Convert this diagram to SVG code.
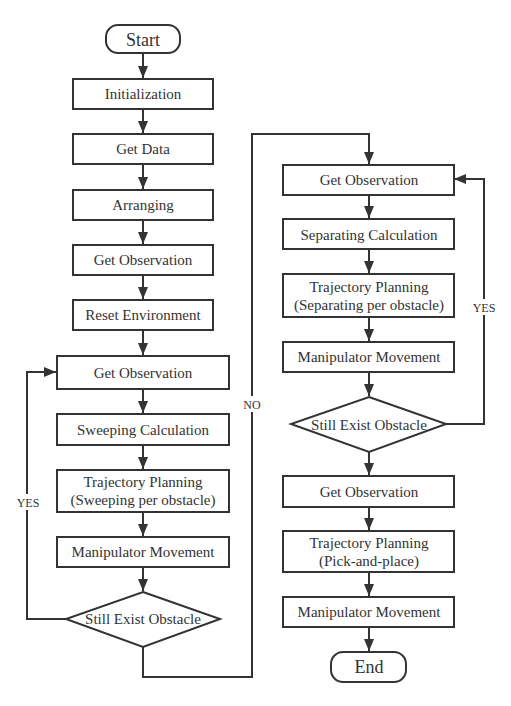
<svg xmlns="http://www.w3.org/2000/svg" width="511" height="706" viewBox="0 0 511 706">
<style>
.box{fill:#fff;stroke:#333;stroke-width:2}
text{font-family:'Liberation Serif','Times New Roman',Times,'DejaVu Serif',serif;fill:#333;text-anchor:middle}
.t{font-size:15px}
.big{font-size:18px}
.lbl{font-size:12px}
.c{fill:none;stroke:#333;stroke-width:2}
</style>
<defs>
<marker id="a" markerUnits="userSpaceOnUse" markerWidth="12" markerHeight="12" viewBox="0 0 12 12" refX="12" refY="6" orient="auto">
<path d="M0,1 L12,6 L0,11 Z" fill="#333"/>
</marker>
</defs>
<rect width="511" height="706" fill="#fff"/>
<g id="connectors">
<path class="c" d="M143,53 V78" marker-end="url(#a)"/>
<path class="c" d="M143,109 V133" marker-end="url(#a)"/>
<path class="c" d="M143,164 V189" marker-end="url(#a)"/>
<path class="c" d="M143,220 V244" marker-end="url(#a)"/>
<path class="c" d="M143,275 V299" marker-end="url(#a)"/>
<path class="c" d="M143,330 V355" marker-end="url(#a)"/>
<path class="c" d="M143,389 V413" marker-end="url(#a)"/>
<path class="c" d="M143,445 V469" marker-end="url(#a)"/>
<path class="c" d="M143,512 V536" marker-end="url(#a)"/>
<path class="c" d="M143,567 V591" marker-end="url(#a)"/>
<path class="c" d="M66,619 H27 V372 H56" marker-end="url(#a)"/>
<path class="c" d="M143,647 V677 H252 V134 H369 V164" marker-end="url(#a)"/>
<path class="c" d="M369,195 V218" marker-end="url(#a)"/>
<path class="c" d="M369,249 V273" marker-end="url(#a)"/>
<path class="c" d="M369,317 V341" marker-end="url(#a)"/>
<path class="c" d="M369,372 V396" marker-end="url(#a)"/>
<path class="c" d="M446,424 H484 V179 H454" marker-end="url(#a)"/>
<path class="c" d="M369,452 V475" marker-end="url(#a)"/>
<path class="c" d="M369,507 V530" marker-end="url(#a)"/>
<path class="c" d="M369,572 V596" marker-end="url(#a)"/>
<path class="c" d="M369,627 V651" marker-end="url(#a)"/>
<rect x="16" y="494" width="24" height="16" fill="#fff"/>
<text class="lbl" x="28" y="507">YES</text>
<rect x="240" y="396" width="24" height="16" fill="#fff"/>
<text class="lbl" x="252" y="409">NO</text>
<rect x="471" y="299" width="26" height="16" fill="#fff"/>
<text class="lbl" x="484" y="312">YES</text>
</g>
<g id="start"><rect class="box" x="106" y="25" width="74" height="28" rx="12"/><text class="big" x="143" y="46">Start</text></g>
<g id="init"><rect class="box" x="73" y="79" width="140" height="30"/><text class="t" x="143" y="99">Initialization</text></g>
<g id="getdata"><rect class="box" x="73" y="134" width="140" height="30"/><text class="t" x="143" y="154">Get Data</text></g>
<g id="arranging"><rect class="box" x="73" y="190" width="140" height="30"/><text class="t" x="143" y="210">Arranging</text></g>
<g id="obs1"><rect class="box" x="73" y="245" width="140" height="30"/><text class="t" x="143" y="265">Get Observation</text></g>
<g id="reset"><rect class="box" x="73" y="300" width="140" height="30"/><text class="t" x="143" y="320">Reset Environment</text></g>
<g id="obs2"><rect class="box" x="57" y="356" width="172" height="33"/><text class="t" x="143" y="378">Get Observation</text></g>
<g id="sweepcalc"><rect class="box" x="57" y="414" width="172" height="31"/><text class="t" x="143" y="435">Sweeping Calculation</text></g>
<g id="traj1"><rect class="box" x="57" y="470" width="172" height="42"/><text class="t" x="143" y="487">Trajectory Planning</text><text class="t" x="143" y="505">(Sweeping per obstacle)</text></g>
<g id="move1"><rect class="box" x="57" y="537" width="172" height="30"/><text class="t" x="143" y="557">Manipulator Movement</text></g>
<g id="dec1"><polygon class="box" points="143,592 220,619 143,647 66,619"/><text class="t" x="143" y="624">Still Exist Obstacle</text></g>
<g id="obs3"><rect class="box" x="283" y="165" width="171" height="30"/><text class="t" x="369" y="185">Get Observation</text></g>
<g id="sepcalc"><rect class="box" x="283" y="219" width="171" height="30"/><text class="t" x="369" y="240">Separating Calculation</text></g>
<g id="traj2"><rect class="box" x="283" y="274" width="171" height="43"/><text class="t" x="369" y="292">Trajectory Planning</text><text class="t" x="369" y="310">(Separating per obstacle)</text></g>
<g id="move2"><rect class="box" x="283" y="342" width="171" height="30"/><text class="t" x="369" y="362">Manipulator Movement</text></g>
<g id="dec2"><polygon class="box" points="369,397 446,424 369,452 291,424"/><text class="t" x="369" y="430">Still Exist Obstacle</text></g>
<g id="obs4"><rect class="box" x="283" y="476" width="171" height="31"/><text class="t" x="369" y="497">Get Observation</text></g>
<g id="traj3"><rect class="box" x="283" y="531" width="171" height="41"/><text class="t" x="369" y="548">Trajectory Planning</text><text class="t" x="369" y="566">(Pick-and-place)</text></g>
<g id="move3"><rect class="box" x="283" y="597" width="171" height="30"/><text class="t" x="369" y="617">Manipulator Movement</text></g>
<g id="end"><rect class="box" x="331" y="652" width="75" height="30" rx="12"/><text class="big" x="369" y="673">End</text></g>
</svg>
